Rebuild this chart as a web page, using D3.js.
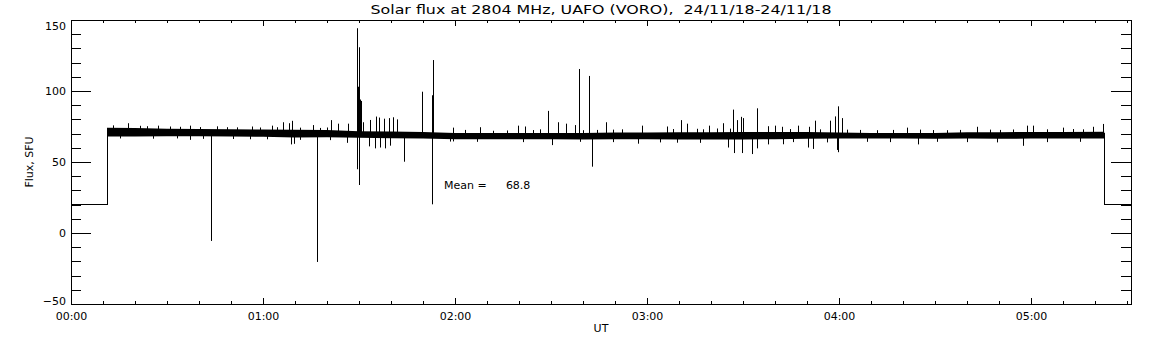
<!DOCTYPE html>
<html>
<head>
<meta charset="utf-8">
<script src="https://cdn.jsdelivr.net/npm/d3@7"></script>
<style>
  body { margin: 0; background: #fff; }
  text { font-family: "DejaVu Sans", sans-serif; fill: #000; }
</style>
</head>
<body>
<div id="chart"></div>
<script>
// times are minutes after 00:00 UT, flux in SFU
const titleText = "Solar flux at 2804 MHz, UAFO (VORO),  24/11/18-24/11/18";
const meanFlux = 68.8;

// receiver idle level before/after the observation
const stepTime = [0, 11.25, 322.9, 331.25];
const stepValue = [20, 70, 20, 20];

// dense core of the trace (lower / upper edge)
const bandTime = [11.25, 20, 30, 40, 50, 60, 70, 80, 90, 100, 110, 120, 130, 140, 150, 160, 170,
                  180, 190, 200, 210, 220, 230, 240, 250, 260, 270, 280, 290, 300, 310, 322.9];
const bandLow  = [68.0, 68.0, 68.1, 68.1, 67.9, 67.8, 67.3, 67.5, 67.0, 66.7, 66.5, 66.1, 66.0, 66.0, 66.1, 65.9, 66.0,
                  66.0, 65.9, 65.8, 65.9, 66.1, 66.3, 66.5, 66.5, 66.5, 66.3, 66.5, 66.4, 66.5, 66.5, 66.5];
const bandHigh = [74.2, 74.0, 73.5, 73.3, 73.1, 72.8, 72.7, 72.5, 71.7, 71.5, 71.1, 70.5, 70.1, 70.0, 70.3, 70.5, 70.8,
                  70.7, 70.9, 71.0, 71.1, 71.1, 71.1, 70.7, 70.5, 70.5, 70.5, 70.9, 71.0, 71.1, 71.2, 71.3];

// individual excursions above the core
const upTime = [17.9, 27.3, 37.2, 45.5, 56.5, 62.7, 66.2, 68.2, 69.0, 75.7, 81.3, 83.5, 86.7,
                89.5, 89.8, 90.1, 90.4, 90.6, 91.3, 93.4, 95.3, 96.3, 97.8, 99.5, 100.5, 101.8,
                109.6, 112.7, 113.0, 119.5, 127.8, 139.8, 141.9, 149.2, 152.3, 154.7, 157.5, 158.8,
                161.9, 167.1, 178.3, 186.2, 190.5, 192.4, 199.5, 203.8, 206.9, 208.0, 209.3, 210.1,
                214.3, 217.9, 220.0, 222.1, 227.3, 230.7, 232.5, 237.2, 238.8, 239.8, 240.8, 261.1,
                283.0, 298.7, 300.7, 310.1, 319.5, 322.6,
                13.2, 21.6, 23.7, 30.9, 34.1, 40.3, 48.7, 51.8, 59.1, 64.3, 71.6, 77.8, 79.9,
                123.1, 132.0, 136.2, 144.5, 146.6, 160.1, 164.3, 169.5, 172.1, 188.2, 195.5, 197.6,
                201.8, 205.9, 224.7, 234.1, 242.4, 246.6, 251.8, 257.0, 265.3, 269.5, 273.6, 277.8,
                287.2, 290.3, 294.5, 304.9, 313.2, 316.4];
const upValue = [77.3, 75.6, 75.6, 75.1, 75.0, 75.6, 78.0, 77.3, 79.0, 76.0, 79.5, 77.0, 77.0,
                 144.2, 103.0, 130.8, 94.0, 93.0, 78.0, 79.6, 82.0, 81.3, 80.5, 80.9, 81.5, 80.0,
                 99.5, 97.0, 121.8, 74.2, 74.5, 75.6, 75.0, 86.0, 78.0, 77.0, 76.0, 115.5,
                 110.6, 78.0, 75.6, 75.0, 79.5, 77.0, 75.6, 77.3, 86.9, 79.5, 81.8, 80.9,
                 87.8, 75.2, 75.6, 74.8, 75.6, 74.8, 79.1, 79.1, 82.1, 89.2, 80.9, 74.2,
                 74.8, 75.6, 75.6, 74.2, 74.8, 76.8,
                 75.8, 75.5, 75.2, 75.0, 74.8, 74.6, 74.5, 74.4, 74.3, 74.5, 74.2, 74.0, 74.3,
                 72.6, 72.0, 72.2, 72.5, 73.0, 72.4, 72.6, 72.8, 73.0, 73.2, 73.4, 73.0,
                 73.6, 73.5, 73.2, 73.0, 72.8, 72.6, 72.4, 72.6, 72.8, 72.5, 72.4, 72.6,
                 72.8, 72.6, 72.9, 73.0, 73.2, 73.0];

// individual excursions below the core
const downTime = [37.2, 43.75, 68.8, 69.7, 77.0, 86.1, 89.5, 90.1, 93.1, 95.0, 96.6, 98.1, 99.7,
                  104.1, 112.9, 119.4, 150.2, 162.7, 177.2, 205.4, 207.2, 209.6, 212.7, 214.3,
                  217.8, 222.6, 230.4, 232.0, 239.3, 239.8, 264.8, 297.6,
                  15.3, 25.7, 33.0, 41.3, 50.7, 55.9, 61.2, 71.6, 80.9,
                  118.4, 126.8, 141.3, 159.0, 169.5, 184.0, 189.3, 196.6,
                  225.7, 236.2, 248.7, 255.9, 270.5, 279.9, 289.3, 304.9, 315.3];
const downValue = [65.6, -5.6, 62.4, 62.8, -20.4, 63.5, 44.9, 33.8, 61.0, 59.6, 60.2, 59.6, 61.5,
                   50.2, 20.2, 64.5, 61.9, 46.7, 62.9, 60.2, 56.3, 56.3, 55.6, 59.6,
                   62.4, 62.5, 60.2, 59.2, 58.5, 56.9, 62.4, 61.4,
                   66.6, 66.4, 66.6, 66.3, 66.2, 66.0, 66.0, 65.6, 65.4,
                   64.4, 64.2, 64.0, 64.2, 64.0, 63.8, 63.6, 63.5,
                   64.0, 63.8, 64.2, 64.0, 64.2, 64.0, 63.8, 64.0, 64.2];

const xMajor = [0, 60, 120, 180, 240, 300];
const xLabels = ["00:00", "01:00", "02:00", "03:00", "04:00", "05:00"];
const yMajor = [-50, 0, 50, 100, 150];

const W = 1152, H = 345;
const margin = {top: 20, right: 21, bottom: 41, left: 71};
const width = W - margin.left - margin.right,
      height = H - margin.top - margin.bottom;

const svg = d3.select("#chart").append("svg")
    .attr("width", W).attr("height", H);
const g = svg.append("g")
    .attr("transform", `translate(${margin.left},${margin.top})`);

const x = d3.scaleLinear().domain([0, 331.25]).range([0, width]);
const y = d3.scaleLinear().domain([-50, 150]).range([height, 0]);

const xMinor = d3.range(0, 331, 10).filter(m => m % 60 !== 0);
const yMinor = d3.range(-50, 151, 10).filter(v => v % 50 !== 0);

// axes, ticks pointing inward like the IDL plot
function ticks(axis, vals, size, tf) {
  return axis.tickValues(vals).tickSizeInner(-size).tickSizeOuter(0).tickFormat(tf || "");
}
const axes = [
  [d3.axisBottom(x), xMajor, 6, `translate(0,${height})`, (d, i) => xLabels[i], 8],
  [d3.axisBottom(x), xMinor, 3, `translate(0,${height})`],
  [d3.axisTop(x), xMajor, 6, "translate(0,0)"],
  [d3.axisTop(x), xMinor, 3, "translate(0,0)"],
  [d3.axisLeft(y), yMajor, 20, "translate(0,0)", d3.format("d"), 5],
  [d3.axisLeft(y), yMinor, 10, "translate(0,0)"],
  [d3.axisRight(y), yMajor, 20, `translate(${width},0)`],
  [d3.axisRight(y), yMinor, 10, `translate(${width},0)`]
];
axes.forEach(([ax, vals, size, tr, tf, pad]) => {
  const a = g.append("g").attr("transform", tr)
      .call(ticks(ax, vals, size, tf).tickPadding(pad || 3));
  a.select(".domain").remove();
  a.selectAll("line").attr("stroke", "#000").attr("shape-rendering", "crispEdges");
  a.selectAll("text").style("font-size", "11px").attr("font-family", null);
  if (!tf) a.selectAll("text").remove();
});
// end labels of the y axis sit inside the frame
g.selectAll("text").filter(d => d === 150).attr("dy", "0.85em");
g.selectAll("text").filter(d => d === -50).attr("dy", "0");

g.append("rect")
    .attr("width", width).attr("height", height)
    .attr("fill", "none").attr("stroke", "#000")
    .attr("shape-rendering", "crispEdges");

// trace
const stepLine = d3.line()
    .x((d, i) => x(stepTime[i]))
    .y(d => y(d))
    .curve(d3.curveStepAfter);
g.append("path")
    .attr("d", stepLine(stepValue))
    .attr("fill", "none").attr("stroke", "#000").attr("stroke-width", 1)
    .attr("shape-rendering", "crispEdges");

const band = d3.area()
    .x((d, i) => x(bandTime[i]))
    .y0((d, i) => y(bandLow[i]))
    .y1((d, i) => y(bandHigh[i]));
g.append("path")
    .attr("d", band(bandTime))
    .attr("fill", "#000");

const spikes = upTime.map((t, i) => [t, upValue[i]])
    .concat(downTime.map((t, i) => [t, downValue[i]]));
g.append("g").selectAll("line")
    .data(spikes)
    .join("line")
    .attr("x1", d => Math.round(x(d[0])) + 0.5)
    .attr("x2", d => Math.round(x(d[0])) + 0.5)
    .attr("y1", y(meanFlux))
    .attr("y2", d => y(d[1]))
    .attr("stroke", "#000").attr("stroke-width", 1);

// texts
svg.append("text")
    .attr("x", margin.left + width / 2).attr("y", 14)
    .attr("text-anchor", "middle")
    .attr("textLength", 461).attr("lengthAdjust", "spacingAndGlyphs")
    .style("font-size", "12px")
    .style("white-space", "pre")
    .text(titleText);

svg.append("text")
    .attr("transform", `translate(33,${margin.top + height / 2}) rotate(-90)`)
    .attr("text-anchor", "middle")
    .style("font-size", "11px")
    .text("Flux, SFU");

svg.append("text")
    .attr("x", margin.left + width / 2).attr("y", 332)
    .attr("text-anchor", "middle")
    .style("font-size", "11px")
    .text("UT");

g.append("text")
    .attr("x", x(116.6)).attr("y", y(31))
    .style("font-size", "11px")
    .text("Mean =");
g.append("text")
    .attr("x", x(135.9)).attr("y", y(31))
    .style("font-size", "11px")
    .text(meanFlux.toFixed(1));
</script>
</body>
</html>
